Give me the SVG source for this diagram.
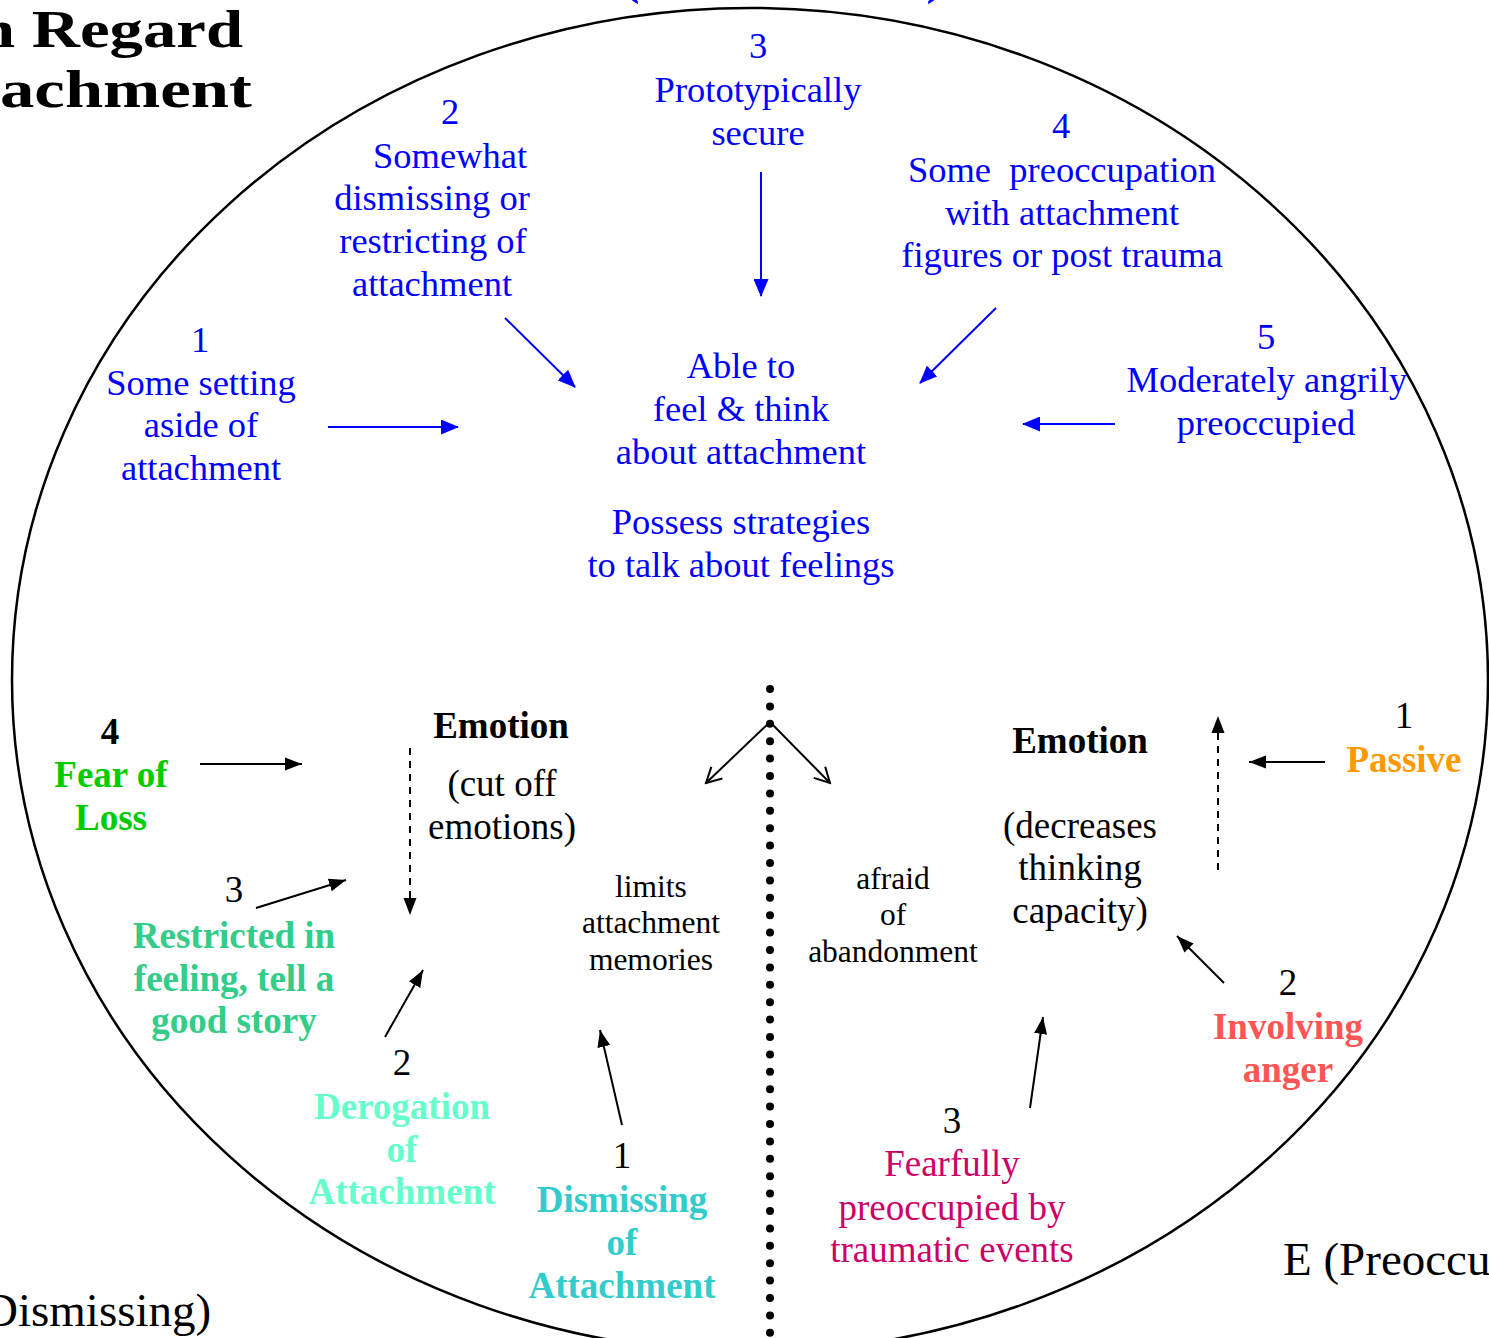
<svg xmlns="http://www.w3.org/2000/svg" width="1489" height="1338" viewBox="0 0 1489 1338">
<style>
text{font-family:"Liberation Serif","Times New Roman",serif;text-anchor:middle}
.b{fill:#0000FF;font-size:36.5px}
.k{fill:#000;font-size:37px}
.ks{fill:#000;font-size:31.5px}
.bold{font-weight:bold}
.big{font-size:47px;fill:#000;text-anchor:start}
.ttl{font-size:53px;font-weight:bold;fill:#000;text-anchor:start}
.bl{stroke:#0000FF;stroke-width:2;fill:none}
.bk{stroke:#000;stroke-width:2;fill:none}
.dash{stroke-dasharray:7 6}
</style>
<defs>
<marker id="ab" markerUnits="userSpaceOnUse" markerWidth="18" markerHeight="15" refX="17" refY="7.5" orient="auto"><path d="M0,0 L18,7.5 L0,15 z" fill="#0000FF"/></marker>
<marker id="ak" markerUnits="userSpaceOnUse" markerWidth="18" markerHeight="14" refX="17" refY="7" orient="auto"><path d="M0,0.5 L17,7 L0,13.5 z" fill="#000"/></marker>
<marker id="ao" markerUnits="userSpaceOnUse" markerWidth="20" markerHeight="20" refX="18" refY="10" orient="auto"><path d="M3,2 L18,10 L3,18" fill="none" stroke="#000" stroke-width="2"/></marker>
</defs>
<rect width="1489" height="1338" fill="#fff"/>
<ellipse cx="750" cy="680" rx="738" ry="672" fill="none" stroke="#000" stroke-width="2.5"/>
<g id="title">
<text class="ttl" x="-22" y="47" textLength="265" lengthAdjust="spacingAndGlyphs">n Regard</text>
<text class="ttl" x="0" y="107" textLength="252" lengthAdjust="spacingAndGlyphs">achment</text>
<text class="ttl" x="622" y="-7" style="fill:#0000FF" textLength="322" lengthAdjust="spacingAndGlyphs">(Autonomous)</text>
</g>
<g id="label-dismissing"><text class="big" x="-16" y="1326">Dismissing)</text></g>
<g id="label-preoccupied"><text class="big" x="1283" y="1275">E (Preoccu</text></g>
<g id="n-center">
<text class="b" x="741" y="378">Able to</text>
<text class="b" x="741" y="421">feel &amp; think</text>
<text class="b" x="741" y="464">about attachment</text>
<text class="b" x="741" y="534">Possess strategies</text>
<text class="b" x="741" y="577">to talk about feelings</text>
</g>
<g id="n-top1">
<text class="b" x="200" y="352">1</text>
<text class="b" x="201" y="395">Some setting</text>
<text class="b" x="201" y="437">aside of</text>
<text class="b" x="201" y="480">attachment</text>
</g>
<g id="n-top2">
<text class="b" x="450" y="124">2</text>
<text class="b" x="450" y="168">Somewhat</text>
<text class="b" x="432" y="210">dismissing or</text>
<text class="b" x="433" y="253">restricting of</text>
<text class="b" x="432" y="296">attachment</text>
</g>
<g id="n-top3">
<text class="b" x="758" y="58">3</text>
<text class="b" x="758" y="102">Prototypically</text>
<text class="b" x="758" y="145">secure</text>
</g>
<g id="n-top4">
<text class="b" x="1061" y="138">4</text>
<text class="b" x="1062" y="182" style="white-space:pre">Some  preoccupation</text>
<text class="b" x="1062" y="225">with attachment</text>
<text class="b" x="1062" y="267">figures or post trauma</text>
</g>
<g id="n-top5">
<text class="b" x="1266" y="349">5</text>
<text class="b" x="1267" y="392">Moderately angrily</text>
<text class="b" x="1266" y="435">preoccupied</text>
</g>
<g id="n-emotion-left">
<text class="k bold" x="501" y="738">Emotion</text>
<text class="k" x="502" y="796">(cut off</text>
<text class="k" x="502" y="839">emotions)</text>
</g>
<g id="n-limits">
<text class="ks" x="651" y="897">limits</text>
<text class="ks" x="651" y="933">attachment</text>
<text class="ks" x="651" y="970">memories</text>
</g>
<g id="n-fear">
<text class="k bold" x="110" y="744">4</text>
<text class="k bold" x="111" y="787" style="fill:#00CC00">Fear of</text>
<text class="k bold" x="111" y="830" style="fill:#00CC00">Loss</text>
</g>
<g id="n-restricted">
<text class="k" x="234" y="902">3</text>
<text class="k bold" x="234" y="948" style="fill:#33CC88">Restricted in</text>
<text class="k bold" x="234" y="991" style="fill:#33CC88">feeling, tell a</text>
<text class="k bold" x="234" y="1033" style="fill:#33CC88">good story</text>
</g>
<g id="n-derogation">
<text class="k" x="402" y="1075">2</text>
<text class="k bold" x="402" y="1119" style="fill:#66FFCC">Derogation</text>
<text class="k bold" x="402" y="1162" style="fill:#66FFCC">of</text>
<text class="k bold" x="402" y="1204" style="fill:#66FFCC">Attachment</text>
</g>
<g id="n-dismissing">
<text class="k" x="622" y="1168">1</text>
<text class="k bold" x="622" y="1212" style="fill:#33CCCC">Dismissing</text>
<text class="k bold" x="622" y="1255" style="fill:#33CCCC">of</text>
<text class="k bold" x="622" y="1298" style="fill:#33CCCC">Attachment</text>
</g>
<g id="n-emotion-right">
<text class="k bold" x="1080" y="753">Emotion</text>
<text class="k" x="1080" y="838">(decreases</text>
<text class="k" x="1080" y="880">thinking</text>
<text class="k" x="1080" y="923">capacity)</text>
</g>
<g id="n-afraid">
<text class="ks" x="893" y="889">afraid</text>
<text class="ks" x="893" y="925">of</text>
<text class="ks" x="893" y="962">abandonment</text>
</g>
<g id="n-passive">
<text class="k" x="1404" y="728">1</text>
<text class="k bold" x="1404" y="772" style="fill:#FF9900">Passive</text>
</g>
<g id="n-involving">
<text class="k" x="1288" y="995">2</text>
<text class="k bold" x="1288" y="1039" style="fill:#FF5555">Involving</text>
<text class="k bold" x="1288" y="1082" style="fill:#FF5555">anger</text>
</g>
<g id="n-fearfully">
<text class="k" x="952" y="1133">3</text>
<text class="k" x="952" y="1176" style="fill:#CC0066">Fearfully</text>
<text class="k" x="952" y="1220" style="fill:#CC0066">preoccupied by</text>
<text class="k" x="952" y="1262" style="fill:#CC0066">traumatic events</text>
</g>
<g id="connectors">
<line class="bl" x1="761" y1="172" x2="761" y2="296" marker-end="url(#ab)"/>
<line class="bl" x1="505" y1="318" x2="575" y2="387" marker-end="url(#ab)"/>
<line class="bl" x1="328" y1="427" x2="458" y2="427" marker-end="url(#ab)"/>
<line class="bl" x1="996" y1="308" x2="920" y2="383" marker-end="url(#ab)"/>
<line class="bl" x1="1115" y1="424" x2="1023" y2="424" marker-end="url(#ab)"/>
<line x1="770" y1="689" x2="770" y2="1338" stroke="#000" stroke-width="8" stroke-linecap="round" stroke-dasharray="0 17.4"/>
<line class="bk" x1="770" y1="722" x2="706" y2="783" marker-end="url(#ao)"/>
<line class="bk" x1="770" y1="722" x2="830" y2="783" marker-end="url(#ao)"/>
<line class="bk" x1="200" y1="764" x2="302" y2="764" marker-end="url(#ak)"/>
<line class="bk" x1="256" y1="908" x2="346" y2="880" marker-end="url(#ak)"/>
<line class="bk dash" x1="410" y1="748" x2="410" y2="915" marker-end="url(#ak)"/>
<line class="bk" x1="385" y1="1037" x2="423" y2="970" marker-end="url(#ak)"/>
<line class="bk" x1="622" y1="1125" x2="600" y2="1030" marker-end="url(#ak)"/>
<line class="bk dash" x1="1218" y1="870" x2="1218" y2="716" marker-end="url(#ak)"/>
<line class="bk" x1="1325" y1="762" x2="1249" y2="762" marker-end="url(#ak)"/>
<line class="bk" x1="1224" y1="983" x2="1177" y2="936" marker-end="url(#ak)"/>
<line class="bk" x1="1030" y1="1108" x2="1043" y2="1017" marker-end="url(#ak)"/>
</g>
</svg>
